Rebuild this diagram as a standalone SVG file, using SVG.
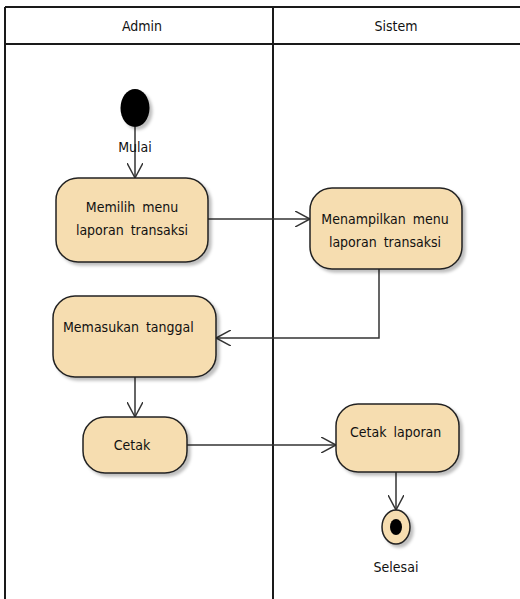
<svg xmlns="http://www.w3.org/2000/svg" width="520" height="599" viewBox="0 0 520 599">
  <style>
    .lane { fill: none; stroke: #1a1a1a; stroke-width: 2; }
    .act { fill: #F6DDB0; stroke: #222; stroke-width: 1.5; filter: url(#shadow); }
    .lbl { font-family: "DejaVu Sans Condensed", "Liberation Sans Narrow", "DejaVu Sans", sans-serif; font-size: 14px; fill: #111; word-spacing: 3px; }
    .hdr { font-family: "DejaVu Sans Condensed", "Liberation Sans Narrow", "DejaVu Sans", sans-serif; font-size: 14px; fill: #111; }
    .flow { fill: none; stroke: #333; stroke-width: 1.5; marker-end: url(#open); }
  </style>
  <defs>
    <filter id="shadow" x="-20%" y="-20%" width="150%" height="150%">
      <feDropShadow dx="3" dy="3" stdDeviation="1.5" flood-color="#000" flood-opacity="0.25"/>
    </filter>
    <marker id="open" markerWidth="18" markerHeight="16" refX="15" refY="8" orient="auto" markerUnits="userSpaceOnUse">
      <path d="M0,0 L15,8 L0,16" fill="none" stroke="#333" stroke-width="1.5"/>
    </marker>
  </defs>

  <!-- swimlanes -->
  <g id="lanes">
    <rect x="0" y="0" width="520" height="599" fill="#fff"/>
    <line class="lane" x1="5" y1="7" x2="520" y2="7"/>
    <line class="lane" x1="5" y1="44" x2="520" y2="44"/>
    <line class="lane" x1="5" y1="7" x2="5" y2="599"/>
    <line class="lane" x1="273" y1="7" x2="273" y2="599"/>
    <text class="hdr" x="142" y="31" text-anchor="middle">Admin</text>
    <text class="hdr" x="396" y="31" text-anchor="middle">Sistem</text>
  </g>

  <!-- connectors -->
  <g id="connectors">
    <line class="flow" x1="135" y1="127" x2="135" y2="178"/>
    <line class="flow" x1="208" y1="219" x2="310" y2="219"/>
    <polyline class="flow" points="379,269 379,338 216,338"/>
    <line class="flow" x1="135" y1="377" x2="135" y2="417"/>
    <line class="flow" x1="187" y1="445" x2="336" y2="445"/>
    <line class="flow" x1="396" y1="472" x2="396" y2="510"/>
  </g>

  <g id="start">
    <ellipse cx="135" cy="108" rx="14.5" ry="19" fill="#000" filter="url(#shadow)"/>
    <text class="lbl" x="135" y="152" text-anchor="middle">Mulai</text>
  </g>

  <g id="memilih">
    <rect class="act" x="56" y="178" width="152" height="84" rx="22"/>
    <text class="lbl" x="132" y="212" text-anchor="middle">Memilih menu</text>
    <text class="lbl" x="132" y="235" text-anchor="middle">laporan transaksi</text>
  </g>

  <g id="menampilkan">
    <rect class="act" x="310" y="188" width="152" height="81" rx="22"/>
    <text class="lbl" x="385" y="224" text-anchor="middle">Menampilkan menu</text>
    <text class="lbl" x="385" y="247" text-anchor="middle">laporan transaksi</text>
  </g>

  <g id="memasukan">
    <rect class="act" x="53" y="296" width="163" height="81" rx="22"/>
    <text class="lbl" x="63" y="332">Memasukan tanggal</text>
  </g>

  <g id="cetak">
    <rect class="act" x="83" y="417" width="104" height="56" rx="22"/>
    <text class="lbl" x="132" y="450" text-anchor="middle">Cetak</text>
  </g>

  <g id="cetak-laporan">
    <rect class="act" x="336" y="404" width="123" height="68" rx="22"/>
    <text class="lbl" x="350" y="437">Cetak laporan</text>
  </g>

  <g id="selesai">
    <ellipse cx="396" cy="527" rx="14" ry="17" fill="#F6DDB0" stroke="#222" stroke-width="1.5" filter="url(#shadow)"/>
    <ellipse cx="396" cy="527" rx="6" ry="8" fill="#000"/>
    <text class="lbl" x="396" y="572" text-anchor="middle">Selesai</text>
  </g>
</svg>
